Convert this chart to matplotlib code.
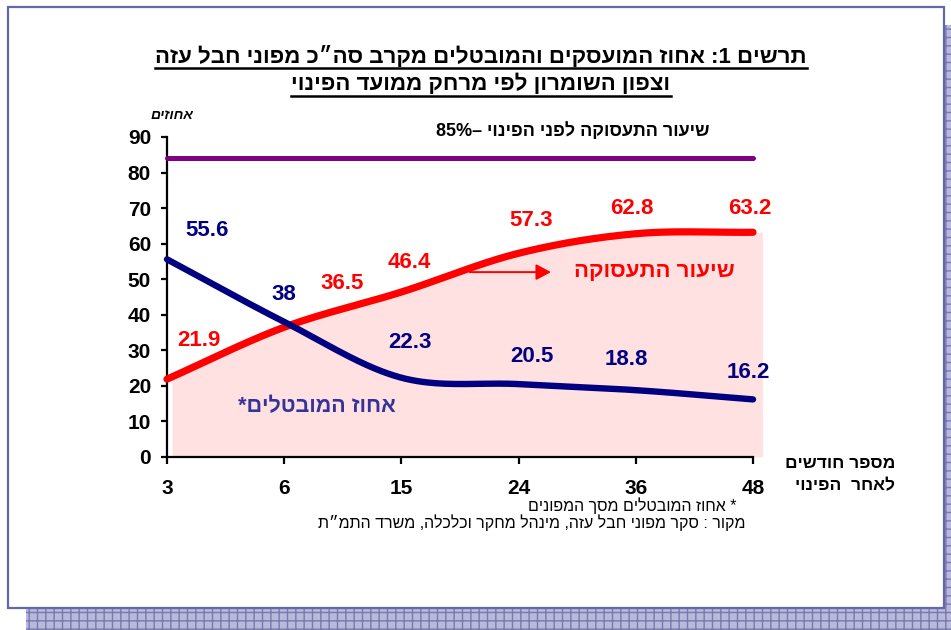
import re
import numpy as np
import matplotlib
matplotlib.use("Agg")
import matplotlib.pyplot as plt
from matplotlib.patches import Rectangle, FancyArrowPatch
from matplotlib.lines import Line2D

plt.rcParams['font.family'] = ['Liberation Sans', 'DejaVu Sans']
plt.rcParams['hatch.linewidth'] = 1.0

# ---------------- data ----------------
months = ["3", "6", "15", "24", "36", "48"]
employment = [21.9, 36.5, 46.4, 57.3, 62.8, 63.2]
unemployment = [55.6, 38, 22.3, 20.5, 18.8, 16.2]
pre_evac_employment = 84
yticks = [0, 10, 20, 30, 40, 50, 60, 70, 80, 90]

title_l1 = "תרשים 1: אחוז המועסקים והמובטלים מקרב סה״כ מפוני חבל עזה"
title_l2 = "וצפון השומרון לפי מרחק ממועד הפינוי"
ylabel_txt = "אחוזים"
xlabel_l1 = "מספר חודשים"
xlabel_l2 = "לאחר  הפינוי"
pre_label = "שיעור התעסוקה לפני הפינוי –85%"
emp_label = "שיעור התעסוקה"
unemp_label = "אחוז המובטלים*"
note1 = "* אחוז המובטלים מסך המפונים"
note2 = "מקור : סקר מפוני חבל עזה, מינהל מחקר וכלכלה, משרד התמ״ת"


def vis(s):
    """Logical RTL string -> visual LTR order for matplotlib."""
    r = s[::-1]
    return re.sub(r'[0-9A-Za-z.%]+', lambda m: m.group(0)[::-1], r)


def smooth(vals, n=60):
    y = np.asarray(vals, float)
    k = len(y)
    m = np.empty(k)
    m[1:-1] = (y[2:] - y[:-2]) / 2
    m[0] = y[1] - y[0]
    m[-1] = y[-1] - y[-2]
    xs, ys = [], []
    for i in range(k - 1):
        t = np.linspace(0, 1, n, endpoint=(i == k - 2))
        h00 = 2 * t**3 - 3 * t**2 + 1
        h10 = t**3 - 2 * t**2 + t
        h01 = -2 * t**3 + 3 * t**2
        h11 = t**3 - t**2
        xs.append(i + t)
        ys.append(h00 * y[i] + h10 * m[i] + h01 * y[i + 1] + h11 * m[i + 1])
    return np.concatenate(xs), np.concatenate(ys)


W, H = 951, 630
fig = plt.figure(figsize=(W / 100, H / 100), dpi=100)
fig.patch.set_facecolor('white')


def fx(x):
    return x / W


def fy(y):
    return 1 - y / H


# shadow + frame
shadow = Rectangle((fx(26), fy(640)), fx(940), (640 - 25) / H, transform=fig.transFigure,
                   facecolor='#b9b9d9', edgecolor='#7a7ab0', hatch='++', lw=0, zorder=0)
fig.patches.append(shadow)
frame = Rectangle((fx(8), fy(608)), fx(936), (608 - 7) / H, transform=fig.transFigure,
                  facecolor='white', edgecolor='#6666aa', lw=1.6, zorder=1)
fig.patches.append(frame)

# axes
x0, y0 = 167, 457
px_per_cat = 117.2
ax = fig.add_axes([fx(x0), 1 - y0 / H, 5.1 * px_per_cat / W, (457 - 137) / H])
ax.set_facecolor('none')
ax.set_zorder(2)
ax.set_xlim(0, 5.1)
ax.set_ylim(0, 90)

xc = np.arange(len(months))
ex, ey = smooth(employment)
ux, uy = smooth(unemployment)

# pink area
fill_x = 0.043 + ex * (5.08 - 0.043) / 5
ax.fill_between(fill_x, 0, ey, color='#ffe1e1', lw=0, zorder=1)

ax.plot([xc[0], xc[-1]], [pre_evac_employment] * 2, color='#800080', lw=3.6,
        solid_capstyle='round', zorder=3, clip_on=False)
ax.plot(ex, ey, color='#ff0000', lw=5.2, solid_capstyle='round', zorder=4, clip_on=False)
ax.plot(ux, uy, color='#000080', lw=4.6, solid_capstyle='round', zorder=5, clip_on=False)

# spines / ticks
for s in ['top', 'right']:
    ax.spines[s].set_visible(False)
for s in ['left', 'bottom']:
    ax.spines[s].set_linewidth(1.6)
ax.spines['bottom'].set_bounds(0, 5)
ax.set_xticks(xc)
ax.set_xticklabels(months)
ax.set_yticks(yticks)
ax.tick_params(axis='x', length=5, width=1.6, pad=11, labelsize=15)
ax.tick_params(axis='y', length=4.5, width=1.6, pad=7, labelsize=15)
for lab in ax.get_xticklabels() + ax.get_yticklabels():
    lab.set_fontweight('bold')

# value labels
red_off = [(0.27, 11), (0.49, 12.4), (0.07, 8.4), (0.11, 9.3), (-0.03, 7.2), (-0.03, 6.8)]
blue_off = [(0.34, 8), (0.0, 7.6), (0.07, 10), (0.11, 7.9), (-0.08, 8.5), (-0.04, 7.7)]
for i, v in enumerate(employment):
    dx, dy = red_off[i]
    ax.text(xc[i] + dx, v + dy, f"{v:g}", color='#ff0000', fontsize=16, fontweight='bold',
            ha='center', va='center', zorder=6)
for i, v in enumerate(unemployment):
    dx, dy = blue_off[i]
    ax.text(xc[i] + dx, v + dy, f"{v:g}", color='#000080', fontsize=16, fontweight='bold',
            ha='center', va='center', zorder=6)

# series labels
ax.text(4.16, 52.2, vis(emp_label), color='#ff0000', fontsize=16, fontweight='bold',
        ha='center', va='center', zorder=6)
ax.add_patch(FancyArrowPatch((2.56, 52.0), (3.30, 52.0), arrowstyle='-|>,head_length=3,head_width=1.6',
                             mutation_scale=3, color='#ff0000', lw=1.4, zorder=6))
ax.text(1.28, 14.3, vis(unemp_label), color='#333399', fontsize=15.5, fontweight='bold',
        ha='center', va='center', zorder=6)
ax.text(fx(710), fy(131), vis(pre_label), transform=fig.transFigure, fontsize=13,
        fontweight='bold', ha='right', va='center', zorder=6)

# axis titles
fig.text(fx(172), fy(115), vis(ylabel_txt), fontsize=10, fontweight='bold', style='italic',
         ha='center', va='center')
fig.text(fx(895), fy(463), vis(xlabel_l1), fontsize=12.5, fontweight='bold', ha='right', va='center')
fig.text(fx(895), fy(486), vis(xlabel_l2), fontsize=12.5, fontweight='bold', ha='right', va='center')

# notes
fig.text(fx(737), fy(506), vis(note1), fontsize=11.5, ha='right', va='center')
fig.text(fx(745), fy(523), vis(note2), fontsize=11.5, ha='right', va='center')

# title
t1 = fig.text(fx(481), fy(57), vis(title_l1), fontsize=16, fontweight='bold', ha='center', va='center')
t2 = fig.text(fx(481), fy(84), vis(title_l2), fontsize=16, fontweight='bold', ha='center', va='center')

fig.canvas.draw()
r = fig.canvas.get_renderer()
for t, uy_px in [(t1, 68), (t2, 96)]:
    bb = t.get_window_extent(r)
    fig.add_artist(Line2D([bb.x0 / W, bb.x1 / W], [fy(uy_px)] * 2, transform=fig.transFigure,
                          color='black', lw=1.8))

fig.savefig('out.png', dpi=100)
